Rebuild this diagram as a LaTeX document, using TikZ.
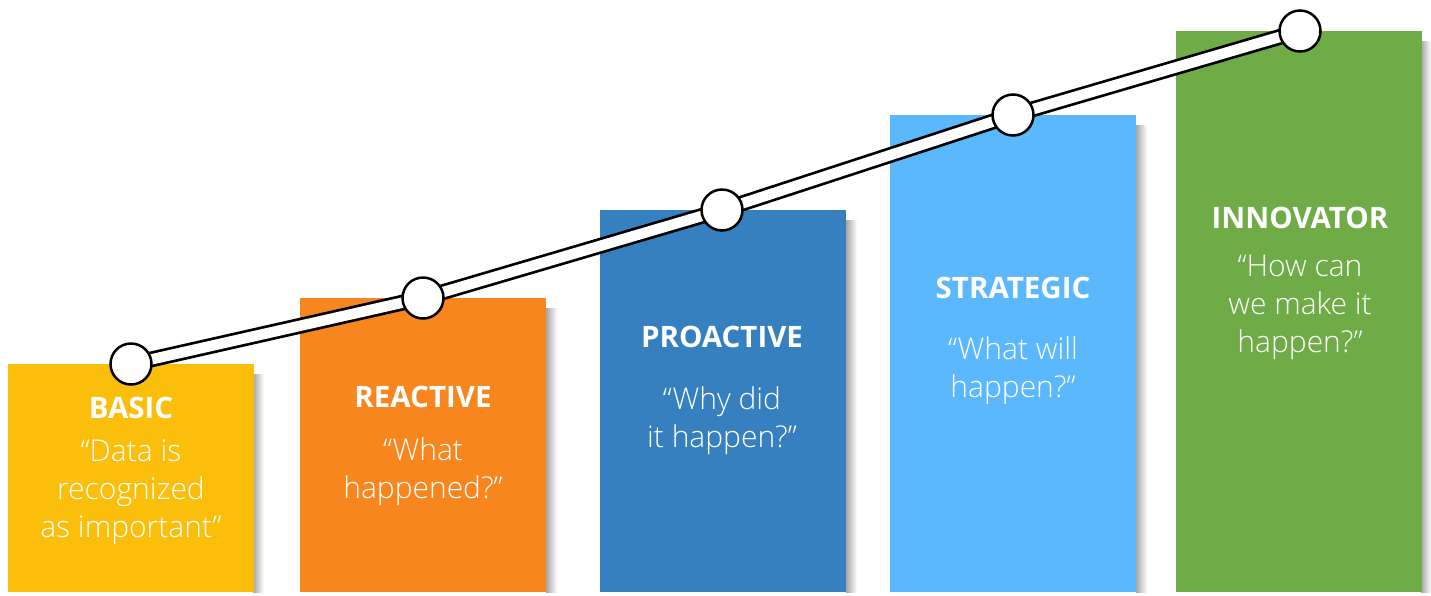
\documentclass[tikz,border=0pt]{standalone}
\usepackage{fontspec}
\setmainfont{Open Sans}
\newfontfamily\lightfont{Open Sans Light}
\usetikzlibrary{calc}
\definecolor{cbasic}{HTML}{FBBE0A}
\definecolor{creact}{HTML}{F7861F}
\definecolor{cproact}{HTML}{3680BF}
\definecolor{cstrat}{HTML}{5CB8FC}
\definecolor{cinnov}{HTML}{6FAC47}
\begin{document}
\begin{tikzpicture}[x=1pt,y=-1pt,
  bar/.style={draw=none, anchor=north west, inner sep=0pt, outer sep=0pt, minimum width=246pt},
  shadowbox/.style={left color=black!35, right color=white, draw=none},
  dot/.style={circle, draw=black, line width=2.5pt, fill=white, minimum size=41pt, inner sep=0pt},
  band/.style={draw=black, line width=2.7pt, double=white, double distance=10.5pt},
  head/.style={text=white, font=\bfseries\fontsize{29.5}{36}\selectfont, inner sep=0pt},
  quote/.style={text=white, font=\lightfont\fontsize{30}{38}\selectfont, align=center, inner sep=0pt}
]
\useasboundingbox (0,0) rectangle (1431,595);
% shadows
\shade[shadowbox] (253,374) rectangle (264,592);
\shade[shadowbox] (546,308) rectangle (557,592);
\shade[shadowbox] (846,220) rectangle (857,592);
\shade[shadowbox] (1136,125) rectangle (1147,592);
\shade[shadowbox] (1421,41) rectangle (1431,592);
% bars
\node[bar, fill=cbasic, minimum height=228pt] (b1) at (8,364) {};
\node[bar, fill=creact, minimum height=294pt] (b2) at (300,298) {};
\node[bar, fill=cproact, minimum height=382pt] (b3) at (600,210) {};
\node[bar, fill=cstrat, minimum height=477pt] (b4) at (890,115) {};
\node[bar, fill=cinnov, minimum height=561pt] (b5) at (1176,31) {};
% texts
\node[head] (h1) at (131,408) {BASIC};
\node[quote] (q1) at (131,492) {“Data is\\recognized\\as important”};
\node[head] (h2) at (423,397) {REACTIVE};
\node[quote] (q2) at (423,472) {“What\\happened?”};
\node[head] (h3) at (722,337) {PROACTIVE};
\node[quote] (q3) at (722,421) {“Why did\\it happen?”};
\node[head] (h4) at (1013,288) {STRATEGIC};
\node[quote] (q4) at (1013,371) {“What will\\happen?”};
\node[head] (h5) at (1300,218) {INNOVATOR};
\node[quote] (q5) at (1300,307) {“How can\\we make it\\happen?”};
% circles positions
\coordinate (p1) at (131,364);
\coordinate (p2) at (423,298);
\coordinate (p3) at (722,210);
\coordinate (p4) at (1013,115);
\coordinate (p5) at (1300,31);
\draw[band] (p1) -- (p2) -- (p3) -- (p4) -- (p5);
\node[dot] (c1) at (p1) {};
\node[dot] (c2) at (p2) {};
\node[dot] (c3) at (p3) {};
\node[dot] (c4) at (p4) {};
\node[dot] (c5) at (p5) {};
\end{tikzpicture}
\end{document}
